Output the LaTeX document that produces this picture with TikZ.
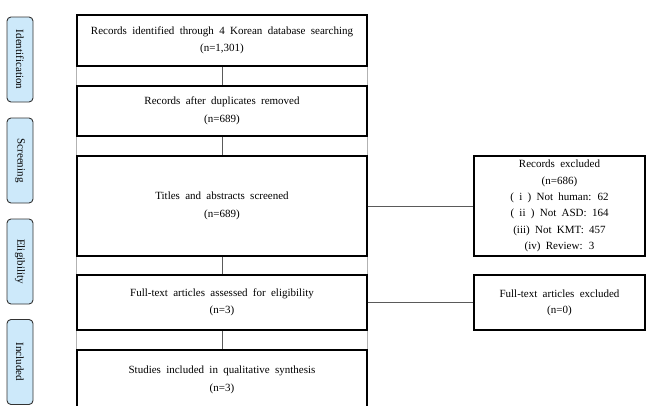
\documentclass[tikz,border=0pt]{standalone}
\usepackage{fontspec}
\setmainfont{Liberation Serif}
\definecolor{sidefill}{RGB}{205,233,250}
\definecolor{linkgrey}{RGB}{90,90,90}
\newcommand{\widesp}{\spaceskip=5.3pt plus 1pt\relax}
\tikzset{
  mainbox/.style={draw=black, line width=1.3pt, minimum width=290pt, align=center, inner sep=0pt,
    font=\fontsize{11}{17.5}\selectfont\widesp},
  sidebox/.style={draw=black, line width=1.3pt, minimum width=171pt, align=center, inner sep=0pt,
    font=\fontsize{11}{16.3}\selectfont\widesp},
  phase/.style={draw=black!80, line width=0.9pt, fill=sidefill, rounded corners=4pt, rotate=-90,
    minimum width=85pt, minimum height=26pt, inner sep=0pt, font=\fontsize{11}{11}\selectfont},
  link/.style={draw=linkgrey, line width=0.8pt},
  rail/.style={draw=black!30, line width=0.8pt}
}
\begin{document}
\begin{tikzpicture}[x=1pt,y=-1pt]
\clip (0,0) rectangle (651,405);
\fill[white] (0,0) rectangle (651,405);
% phase labels
\node[phase] (p1) at (20,59.5) {Identification};
\node[phase] (p2) at (20,160.5) {Screening};
\node[phase] (p3) at (20,261.5) {Eligibility};
\node[phase] (p4) at (20,362) {Included};
% main boxes
\node[mainbox, minimum height=51pt] (b1) at (222,40.5) {Records identified through 4 Korean database searching\\(n=1,301)};
\node[mainbox, minimum height=50pt] (b2) at (222,111) {Records after duplicates removed\\(n=689)};
\node[mainbox, minimum height=100pt] (b3) at (222,206) {Titles and abstracts screened\\(n=689)};
\node[mainbox, minimum height=55pt] (b4) at (222,302.5) {Full-text articles assessed for eligibility\\(n=3)};
\node[mainbox, minimum height=60pt] (b5) at (222,380) {Studies included in qualitative synthesis\\(n=3)};
% right boxes
\node[sidebox, minimum height=100pt] (r1) at (559.5,206) {Records excluded\\(n=686)\\( i ) Not human: 62\\( ii ) Not ASD: 164\\(iii) Not KMT: 457\\(iv) Review: 3};
\node[sidebox, minimum height=55pt] (r2) at (559.5,302.5) {Full-text articles excluded\\(n=0)};
% rails between main boxes
\foreach \a/\b in {b1/b2,b2/b3,b3/b4,b4/b5}{
  \draw[rail] (\a.south west) -- (\b.north west);
  \draw[rail] (\a.south east) -- (\b.north east);
  \draw[link] (\a.south) -- (\b.north);
}
% side connectors
\draw[link] (b3.east) -- (r1.west);
\draw[link] (b4.east) -- (r2.west);
\end{tikzpicture}
\end{document}
